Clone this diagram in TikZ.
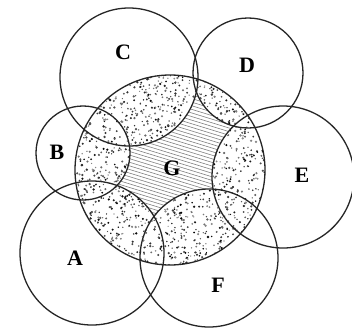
\documentclass[tikz,border=0pt]{standalone}
\usepackage{fontspec}
\setmainfont{Liberation Serif}
\begin{document}
\begin{tikzpicture}[x=1pt,y=-1pt,
  ring/.style={draw=black!85, line width=1.3pt},
  hatchline/.style={draw=black!50, line width=0.6pt},
  lab/.style={font=\fontsize{22}{22}\selectfont\bfseries, inner sep=0pt}]
\useasboundingbox (0,0) rectangle (352,329);
\fill[white] (0,0) rectangle (352,329);
\coordinate (cA) at (92,253);
\coordinate (cB) at (83,153);
\coordinate (cC) at (129,77);
\coordinate (cD) at (248,73);
\coordinate (cE) at (283,177);
\coordinate (cF) at (209,258);
\coordinate (cG) at (170,170);
\begin{scope}
  \clip (cG) circle (95);
  \foreach \k in {0,3.6,...,272}{
    \draw[hatchline] (70,\k) -- (272,\k+62);
  }
  \fill[white] (cA) circle (72) (cB) circle (47) (cC) circle (69)
               (cD) circle (55) (cE) circle (71) (cF) circle (69);
  \begin{scope}
    \clip (cA) circle (72) (cB) circle (47) (cC) circle (69)
          (cD) circle (55) (cE) circle (71) (cF) circle (69);
    \pgfmathsetseed{7}
    \foreach \i in {1,...,1700}{
      \pgfmathsetmacro\px{75+190*rnd}
      \pgfmathsetmacro\py{75+190*rnd}
      \pgfmathsetmacro\pr{0.6+0.7*rnd}
      \pgfmathsetmacro\pc{int(45+55*rnd)}
      \fill[black!\pc] (\px,\py) circle (\pr);
    }
  \end{scope}
\end{scope}
\draw[ring] (cA) circle (72);
\draw[ring] (cB) circle (47);
\draw[ring] (cC) circle (69);
\draw[ring] (cD) circle (55);
\draw[ring] (cE) circle (71);
\draw[ring] (cF) circle (69);
\draw[ring] (cG) circle (95);
\node[lab] (lA) at (75,258) {A};
\node[lab] (lB) at (57,152) {B};
\node[lab] (lC) at (123,52) {C};
\node[lab] (lD) at (247,65) {D};
\node[lab] (lE) at (302,175) {E};
\node[lab] (lF) at (218,285) {F};
\node[lab] (lG) at (172,168) {G};
\end{tikzpicture}
\end{document}
